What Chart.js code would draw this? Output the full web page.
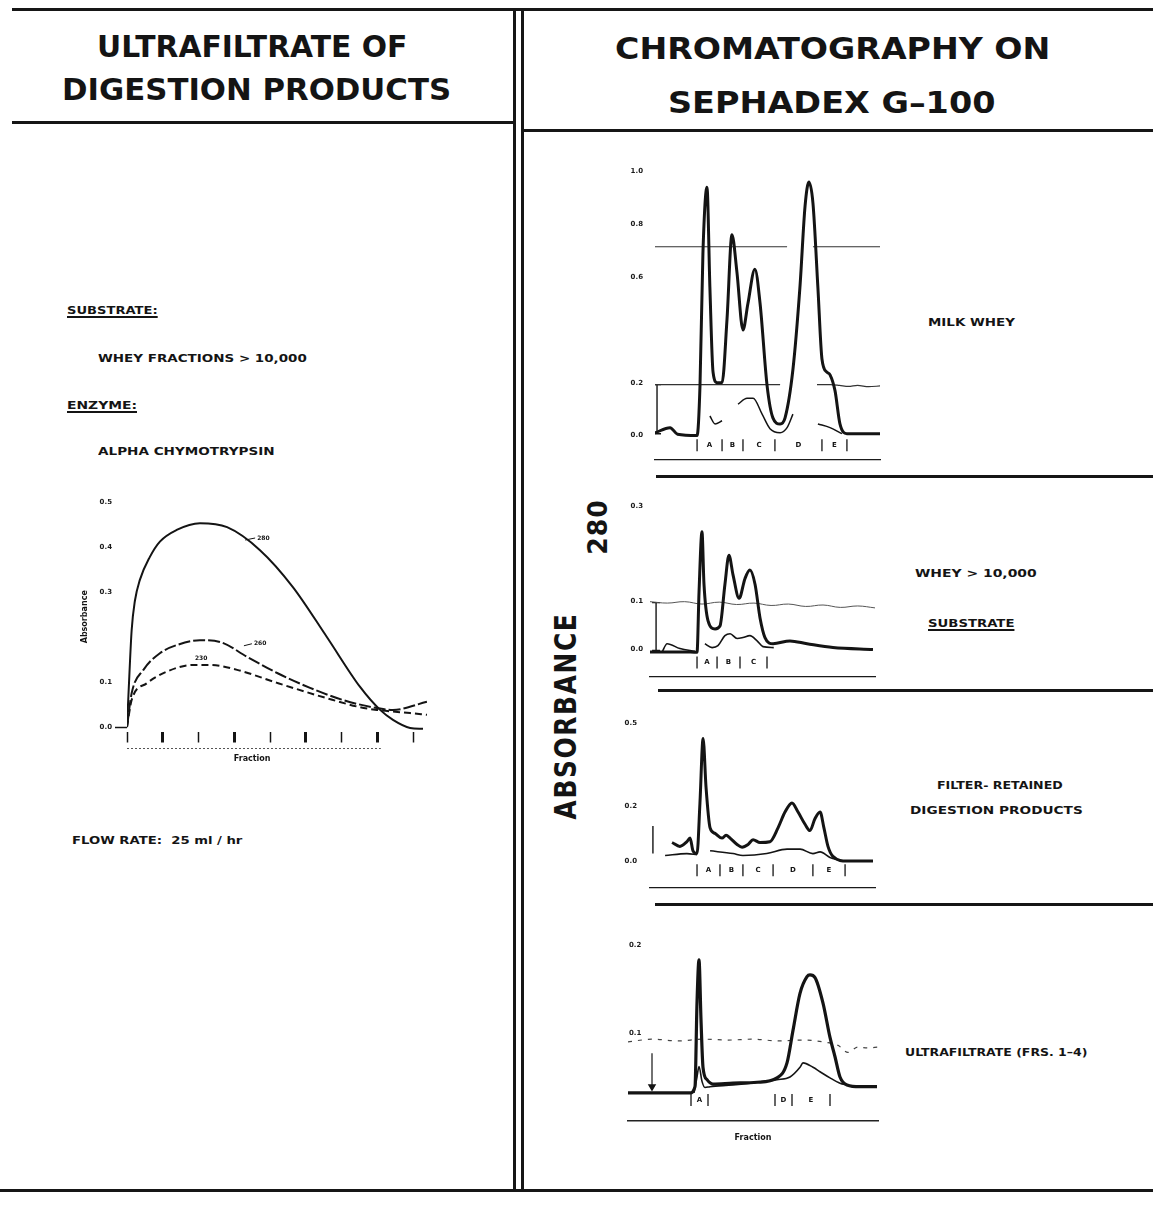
<!DOCTYPE html>
<html>
<head>
<meta charset="utf-8">
<title>Ultrafiltrate of digestion products / Chromatography on Sephadex G-100</title>
<script src="https://cdn.jsdelivr.net/npm/chart.js@4.4.1/dist/chart.umd.min.js"></script>
<style>
  html, body { margin: 0; padding: 0; background: #fff; }
  #page { position: relative; width: 1153px; height: 1205px; overflow: hidden; background: #fff; color: #141414; font-family: "DejaVu Sans", sans-serif; }
  .rule { position: absolute; background: #161616; }
  .txt { position: absolute; white-space: nowrap; font-weight: bold; line-height: 1; transform-origin: 0 50%; }
  .ul { text-decoration: underline; text-decoration-thickness: 2px; text-underline-offset: 2px; }
  canvas { position: absolute; }
</style>
</head>
<body>
<div id="page">
  <!-- frame -->
  <div class="rule" style="left:12px;top:8px;width:1141px;height:2.5px"></div>
  <div class="rule" style="left:12px;top:121px;width:502px;height:2.5px"></div>
  <div class="rule" style="left:522px;top:129px;width:631px;height:2.5px"></div>
  <div class="rule" style="left:513px;top:8px;width:2.5px;height:1184px"></div>
  <div class="rule" style="left:521px;top:8px;width:2.5px;height:1184px"></div>
  <div class="rule" style="left:0;top:1189px;width:1153px;height:2.5px"></div>
  <div class="rule" style="left:656px;top:475px;width:497px;height:3px"></div>
  <div class="rule" style="left:658px;top:689px;width:495px;height:3px"></div>
  <div class="rule" style="left:655px;top:903px;width:498px;height:3px"></div>

  <!-- headings -->
  <div class="txt" data-x="97" data-y="46" data-w="310" style="font-size:31px">ULTRAFILTRATE OF</div>
  <div class="txt" data-x="62" data-y="89" data-w="389" style="font-size:31px">DIGESTION PRODUCTS</div>
  <div class="txt" data-x="615" data-y="48" data-w="435" style="font-size:31px">CHROMATOGRAPHY ON</div>
  <div class="txt" data-x="668" data-y="102" data-w="327" style="font-size:31px">SEPHADEX G–100</div>

  <!-- left panel notes -->
  <div class="txt ul" data-x="67" data-y="310" data-w="91" style="font-size:10.5px">SUBSTRATE:</div>
  <div class="txt" data-x="98" data-y="358" data-w="209" style="font-size:10.5px">WHEY FRACTIONS &gt; 10,000</div>
  <div class="txt ul" data-x="67" data-y="405" data-w="70" style="font-size:10.5px">ENZYME:</div>
  <div class="txt" data-x="98" data-y="451" data-w="177" style="font-size:10.5px">ALPHA CHYMOTRYPSIN</div>
  <div class="txt" data-x="72" data-y="840" data-w="171" style="font-size:10.5px">FLOW RATE:&nbsp;&nbsp;25 ml / hr</div>

  <!-- right panel notes -->
  <div class="txt" data-x="928" data-y="322" data-w="87" style="font-size:10.5px">MILK WHEY</div>
  <div class="txt" data-x="915" data-y="573" data-w="122" style="font-size:10.5px">WHEY &gt; 10,000</div>
  <div class="txt ul" data-x="928" data-y="623" data-w="87" style="font-size:10.5px">SUBSTRATE</div>
  <div class="txt" data-x="937" data-y="785" data-w="126" style="font-size:10.5px">FILTER- RETAINED</div>
  <div class="txt" data-x="910" data-y="810" data-w="173" style="font-size:10.5px">DIGESTION PRODUCTS</div>
  <div class="txt" data-x="905" data-y="1052" data-w="182" style="font-size:10.5px">ULTRAFILTRATE (FRS. 1–4)</div>
  <div class="txt" data-x="566" data-y="716" data-w="207" data-rot="1" style="font-size:30px;letter-spacing:2px">ABSORBANCE</div>
  <div class="txt" data-x="597" data-y="527" data-w="55" data-rot="1" style="font-size:26px;letter-spacing:1px">280</div>

  <canvas id="leftChart" width="420" height="300" style="left:40px;top:480px;width:420px;height:300px"></canvas>
  <canvas id="milkChart" width="300" height="330" style="left:600px;top:150px;width:300px;height:330px"></canvas>
  <canvas id="subChart" width="300" height="200" style="left:600px;top:490px;width:300px;height:200px"></canvas>
  <canvas id="retChart" width="300" height="205" style="left:600px;top:700px;width:300px;height:205px"></canvas>
  <canvas id="ufChart" width="300" height="235" style="left:600px;top:915px;width:300px;height:235px"></canvas>
</div>

<script>
// ---------- left: ultrafiltrate, absorbance per fraction ----------
const fracTicks = [0, 1, 2, 3, 4, 5, 6, 7, 8];
const absTicksLeft = [0, 0.1, 0.3, 0.4, 0.5];
const curveNames = ['280', '260', '230'];

const fracA = [0, 0.04, 0.13, 0.22, 0.36, 0.64, 0.92, 1.39, 2.04, 2.80, 3.72, 4.64, 5.59, 6.52, 7.08, 7.44, 7.92, 8.28];
const absA  = [0, 0.07, 0.215, 0.28, 0.327, 0.378, 0.412, 0.438, 0.453, 0.444, 0.393, 0.311, 0.200, 0.089, 0.038, 0.016, -0.002, -0.004];
const fracB = [0, 0.13, 0.46, 0.92, 1.39, 2.04, 2.60, 3.36, 4.20, 5.12, 6.04, 6.99, 7.44, 8.39];
const absB  = [0, 0.075, 0.127, 0.164, 0.182, 0.193, 0.189, 0.156, 0.120, 0.087, 0.060, 0.042, 0.038, 0.056];
const fracC = [0, 0.13, 0.55, 1.11, 1.85, 2.32, 3.08, 4.20, 5.59, 6.52, 6.99, 7.92, 8.39];
const absC  = [0, 0.06, 0.097, 0.123, 0.138, 0.138, 0.127, 0.098, 0.064, 0.044, 0.038, 0.031, 0.027];

// ---------- right 1: milk whey ----------
const milkTicks = [0, 0.2, 0.6, 0.8, 1.0];
const milkFrac = [0, 6.7, 10, 18.7, 20, 21.3, 23.1, 24.4, 25.8, 27.6, 29.8, 32, 34.2, 36.4, 39.1, 41.3, 44.4, 46.7, 49.8, 52.4, 55.6, 57.8, 61.3, 64.4, 66.7, 68.4, 70.2, 72.4, 74.2, 76.4, 77.8, 80, 82.2, 85.3, 100];
const milkAbs  = [0.01, 0.03, 0.005, 0.0, 0.19, 0.69, 0.94, 0.56, 0.24, 0.20, 0.20, 0.44, 0.76, 0.62, 0.40, 0.50, 0.63, 0.50, 0.19, 0.067, 0.044, 0.067, 0.25, 0.56, 0.87, 0.96, 0.88, 0.56, 0.29, 0.24, 0.23, 0.17, 0.044, 0.007, 0.007];
const milkThinFrac = [24.4, 26.7, 29.8, 29.9, 36.9, 40.9, 43.6, 47.6, 51.1, 55.6, 58.7, 61.3, 61.4, 72.4, 77.8, 83.1];
const milkThinAbs  = [0.074, 0.044, 0.056, null, 0.119, 0.141, 0.141, 0.081, 0.026, 0.011, 0.030, 0.081, null, 0.044, 0.030, 0.007];
const milkUpperFrac = [0, 58.7, 58.8, 70.2, 100];
const milkUpperAbs  = [0.715, 0.715, null, 0.715, 0.715];
const milkLowerFrac = [0, 55.6, 55.7, 72, 78, 82, 86, 90, 95, 100];
const milkLowerAbs  = [0.193, 0.193, null, 0.193, 0.193, 0.19, 0.186, 0.19, 0.185, 0.188];
const milkBarFrac = [0.9, 0.9];
const milkBarAbs  = [0.193, 0.007];
const milkZoneEdges = [18.7, 29.8, 39.1, 53.3, 74.2, 85.3];
const milkZoneNames = ['A', 'B', 'C', 'D', 'E'];

// ---------- right 2: whey > 10,000 (substrate) ----------
const subTicks = [0, 0.1, 0.3];
const subFrac = [0, 15, 20.9, 21.8, 23.1, 24.0, 25.8, 28.9, 31.1, 33.3, 35.1, 36.9, 39.6, 42.2, 44.4, 46.7, 48.9, 51.1, 54.7, 62.2, 69.8, 81.3, 99.1];
const subAbs  = [-0.005, -0.005, -0.006, 0.121, 0.246, 0.136, 0.060, 0.043, 0.049, 0.136, 0.197, 0.156, 0.107, 0.148, 0.166, 0.136, 0.066, 0.025, 0.012, 0.018, 0.012, 0.004, 0.0];
const subThinFrac = [5.3, 7.6, 13.3, 20, 20.1, 24.4, 27.6, 30.2, 33.3, 35.6, 38.7, 41.3, 44.4, 47.6, 50.2, 55];
const subThinAbs  = [-0.006, 0.012, 0.002, -0.004, null, 0.012, 0.004, 0.008, 0.029, 0.033, 0.023, 0.025, 0.029, 0.018, 0.006, 0.004];
const subWaveFrac = [0, 7.7, 15.4, 23.1, 30.8, 38.5, 46.2, 53.8, 61.5, 69.2, 76.9, 84.6, 92.3, 100];
const subWaveAbs  = [0.100, 0.097, 0.100, 0.095, 0.099, 0.094, 0.097, 0.092, 0.095, 0.090, 0.093, 0.088, 0.091, 0.087];
const subBarFrac = [2.7, 2.7];
const subBarAbs  = [0.098, -0.002];
const subZoneEdges = [20.9, 29.8, 40, 52];
const subZoneNames = ['A', 'B', 'C'];

// ---------- right 3: filter-retained digestion products ----------
const retTicks = [0, 0.2, 0.5];
const retFrac = [9.8, 13.3, 16.4, 17.8, 19.1, 20.9, 22.2, 23.6, 24.9, 26.7, 28.9, 32.0, 33.8, 35.6, 38.7, 40.9, 43.6, 45.8, 48.9, 53.3, 56.9, 60.0, 63.1, 65.8, 68.9, 71.1, 73.3, 75.6, 77.3, 79.1, 81.3, 87.6, 99.1];
const retAbs  = [0.067, 0.053, 0.070, 0.083, 0.037, 0.027, 0.21, 0.443, 0.267, 0.12, 0.10, 0.083, 0.093, 0.083, 0.06, 0.05, 0.06, 0.077, 0.067, 0.07, 0.12, 0.177, 0.21, 0.177, 0.133, 0.11, 0.153, 0.177, 0.12, 0.053, 0.017, 0, 0];
const retThinFrac = [6.7, 16.4, 20.9, 21, 26.7, 36.9, 41.3, 51.9, 60.9, 66.7, 72.4, 75.6, 80, 84.4];
const retThinAbs  = [0.02, 0.027, 0.023, null, 0.037, 0.027, 0.02, 0.027, 0.043, 0.043, 0.027, 0.033, 0.013, 0.003];
const retBarFrac = [1.3, 1.3];
const retBarAbs  = [0.127, 0.027];
const retZoneEdges = [20.9, 31.1, 41.3, 54.7, 72.4, 86.7];
const retZoneNames = ['A', 'B', 'C', 'D', 'E'];

// ---------- right 4: ultrafiltrate (frs. 1-4) ----------
const ufTicks = [0.1, 0.2];
const ufFrac = [0, 8.8, 15.6, 22.8, 24.8, 26.8, 27.6, 28.4, 29.2, 30.0, 31.6, 34.0, 42.0, 51.6, 59.6, 63.6, 66.0, 68.8, 71.6, 72.8, 74.8, 78.0, 80.8, 82.8, 84.8, 87.6, 92.8, 99.6];
const ufAbs  = [0.032, 0.032, 0.032, 0.032, 0.032, 0.039, 0.134, 0.183, 0.115, 0.061, 0.047, 0.042, 0.043, 0.044, 0.049, 0.066, 0.103, 0.145, 0.164, 0.166, 0.163, 0.134, 0.095, 0.073, 0.05, 0.041, 0.039, 0.039];
const ufThinFrac = [26.4, 27.6, 28.4, 29.6, 30.8, 32.8, 42.0, 59.6, 64.8, 68.8, 70.0, 74.0, 76.8, 80.8, 84.8, 87.6];
const ufThinAbs  = [0.032, 0.05, 0.062, 0.045, 0.038, 0.039, 0.041, 0.047, 0.05, 0.061, 0.066, 0.061, 0.056, 0.049, 0.043, 0.041];
const ufDotFrac = [0, 10, 20, 30, 40, 50, 60, 70, 80, 84, 88, 92, 96, 100];
const ufDotAbs  = [0.090, 0.093, 0.091, 0.093, 0.092, 0.093, 0.091, 0.092, 0.089, 0.086, 0.078, 0.084, 0.083, 0.084];
const ufArrowFrac = [9.6, 9.6];
const ufArrowAbs  = [0.077, 0.039];
const ufZoneEdges = [25.2, 32, 58.8, 65.6, 80.8];
const ufZoneNames = ['A', null, 'D', 'E'];

const ink = '#141414';
Chart.defaults.font.family = '"DejaVu Sans", sans-serif';
Chart.defaults.color = ink;

// fit every html label to the width it has in the scan
document.querySelectorAll('.txt').forEach(el => {
    const w = el.offsetWidth, h = el.offsetHeight;
    const s = (+el.dataset.w) / w;
    if (el.dataset.rot) {
        el.style.left = (+el.dataset.x - w / 2) + 'px';
        el.style.top = (+el.dataset.y - h / 2) + 'px';
        el.style.transformOrigin = '50% 50%';
        el.style.transform = `rotate(-90deg) scaleX(${s})`;
    } else {
        el.style.left = el.dataset.x + 'px';
        el.style.top = (+el.dataset.y - h / 2) + 'px';
        el.style.transform = `scaleX(${s})`;
    }
});

const pts = (xs, ys) => xs.map((x, i) => ({ x, y: ys[i] }));

const trace = (xs, ys, width, extra) => Object.assign({
    data: pts(xs, ys), borderColor: ink, borderWidth: width, pointRadius: 0,
    fill: false, cubicInterpolationMode: 'monotone', spanGaps: false
}, extra || {});

// short vertical scale bars with caps
const bracket = (xs, ys, extra) => Object.assign({
    data: pts(xs, ys), borderColor: ink, borderWidth: 1.4, tension: 0,
    pointStyle: 'line', pointRadius: 4, pointBorderColor: ink, pointBorderWidth: 1.4
}, extra || {});

// zone letters, rules and small notes, all placed through the scales
const markup = {
    id: 'markup',
    afterDatasetsDraw(chart, args, o) {
        const { ctx, chartArea: area } = chart;
        const x = chart.scales.x, y = chart.scales.y;
        ctx.save();
        ctx.fillStyle = ink;
        ctx.strokeStyle = ink;
        if (o.zones) {
            const yp = y.getPixelForValue(o.zones.at);
            ctx.lineWidth = 1.3;
            o.zones.edges.forEach(e => {
                const xp = x.getPixelForValue(e);
                ctx.beginPath(); ctx.moveTo(xp, yp - 6); ctx.lineTo(xp, yp + 6); ctx.stroke();
            });
            ctx.font = 'bold 7px "DejaVu Sans"';
            ctx.textAlign = 'center';
            ctx.textBaseline = 'middle';
            o.zones.names.forEach((n, i) => {
                if (n) ctx.fillText(n, x.getPixelForValue((o.zones.edges[i] + o.zones.edges[i + 1]) / 2), yp);
            });
        }
        (o.rules || []).forEach(r => {
            const yp = area.bottom + r.dy;
            ctx.lineWidth = 1;
            ctx.strokeStyle = '#555';
            ctx.setLineDash(r.dash || []);
            ctx.beginPath(); ctx.moveTo(x.getPixelForValue(r.from), yp); ctx.lineTo(x.getPixelForValue(r.to), yp); ctx.stroke();
            ctx.setLineDash([]);
            ctx.strokeStyle = ink;
        });
        (o.notes || []).forEach(n => {
            const xp = x.getPixelForValue(n.x);
            const yp = n.dy != null ? area.bottom + n.dy : y.getPixelForValue(n.y);
            ctx.font = n.font || 'bold 6px "DejaVu Sans"';
            ctx.textAlign = n.align || 'left';
            ctx.textBaseline = 'middle';
            ctx.fillText(n.text, xp, yp);
            if (n.lead) {
                ctx.lineWidth = 1;
                ctx.beginPath(); ctx.moveTo(xp - n.lead, yp + 2); ctx.lineTo(xp - 2, yp); ctx.stroke();
            }
        });
        ctx.restore();
    }
};

// common frame: fixed axis sizes so the plot areas land where the scan has them
const frame = o => ({
    animation: false,
    responsive: false,
    layout: { padding: { top: o.top, right: o.right, left: 0, bottom: 0 } },
    plugins: { legend: { display: false }, tooltip: { enabled: false }, markup: o.markup || {} },
    scales: {
        x: Object.assign({
            type: 'linear', min: o.xMin, max: o.xMax,
            afterFit: s => { s.height = o.xH; },
            grid: { display: false },
            ticks: { display: false },
            border: { display: true, color: '#1a1a1a', width: 1.3 }
        }, o.x || {}),
        y: Object.assign({
            type: 'linear', min: o.yMin, max: o.yMax,
            afterFit: s => { s.width = o.yW; },
            afterBuildTicks: s => { s.ticks = o.yTicks.map(v => ({ value: v })); },
            grid: { display: false, drawTicks: false },
            border: { display: false },
            ticks: { padding: o.yPad, autoSkip: false, mirror: !!o.mirror, color: '#1a1a1a', font: { size: 7, weight: 'bold' }, callback: v => v.toFixed(1) }
        }, o.y || {})
    }
});

new Chart(document.getElementById('leftChart'), {
    type: 'line',
    plugins: [markup],
    data: { datasets: [
        trace(fracA, absA, 2),
        trace(fracB, absB, 2, { borderDash: [12, 3] }),
        trace(fracC, absC, 2, { borderDash: [7, 4] })
    ] },
    options: frame({
        top: 22, right: 32.7, xH: 48.5, yW: 87,
        xMin: 0, xMax: 8.4, yMin: -0.01, yMax: 0.5, yTicks: absTicksLeft, yPad: 3,
        x: {
            afterBuildTicks: s => { s.ticks = fracTicks.map(v => ({ value: v })); },
            grid: { display: true, drawOnChartArea: false, drawTicks: true, tickLength: 11, tickColor: ink, tickWidth: c => (c.index % 2 ? 3 : 1.5) },
            border: { display: false }
        },
        y: {
            grid: { display: true, drawOnChartArea: false, drawTicks: true, tickLength: 12, tickWidth: 1.5, tickColor: c => (c.index === 0 ? ink : 'rgba(0,0,0,0)') },
            title: { display: true, text: 'Absorbance', color: ink, font: { size: 8, weight: 'bold' }, padding: { top: 40, bottom: 0 } }
        },
        markup: {
            rules: [{ from: 0, to: 7.1, dy: 17, dash: [2, 2] }],
            notes: [
                { x: 3.64, y: 0.42, text: curveNames[0], lead: 12 },
                { x: 3.55, y: 0.185, text: curveNames[1], lead: 10 },
                { x: 1.9, y: 0.153, text: curveNames[2] },
                { x: 3.5, dy: 27, text: 'Fraction', font: 'bold 8px "DejaVu Sans"', align: 'center' }
            ]
        }
    })
});

new Chart(document.getElementById('milkChart'), {
    type: 'line',
    plugins: [markup],
    data: { datasets: [
        trace(milkFrac, milkAbs, 3),
        trace(milkThinFrac, milkThinAbs, 1.5),
        trace(milkUpperFrac, milkUpperAbs, 1.2, { borderColor: '#333' }),
        trace(milkLowerFrac, milkLowerAbs, 1.2, { borderColor: '#333' }),
        bracket(milkBarFrac, milkBarAbs)
    ] },
    options: frame({
        top: 9.6, right: 20, xH: 20, yW: 55,
        xMin: 0, xMax: 100, yMin: -0.0926, yMax: 1.02, yTicks: milkTicks, yPad: 12,
        markup: { zones: { at: -0.037, edges: milkZoneEdges, names: milkZoneNames } }
    })
});

new Chart(document.getElementById('subChart'), {
    type: 'line',
    plugins: [markup],
    data: { datasets: [
        trace(subFrac, subAbs, 3),
        trace(subThinFrac, subThinAbs, 1.6),
        trace(subWaveFrac, subWaveAbs, 1, { borderColor: '#555', tension: 0.4, cubicInterpolationMode: 'default' }),
        bracket(subBarFrac, subBarAbs)
    ] },
    options: frame({
        top: 8, right: 25, xH: 13, yW: 50,
        xMin: 0, xMax: 100, yMin: -0.0575, yMax: 0.31, yTicks: subTicks, yPad: 7,
        markup: { zones: { at: -0.027, edges: subZoneEdges, names: subZoneNames } }
    })
});

new Chart(document.getElementById('retChart'), {
    type: 'line',
    plugins: [markup],
    data: { datasets: [
        trace(retFrac, retAbs, 3),
        trace(retThinFrac, retThinAbs, 1.6),
        bracket(retBarFrac, retBarAbs, { pointRadius: 0 })
    ] },
    options: frame({
        top: 7, right: 25, xH: 13, yW: 50,
        xMin: 0, xMax: 100, yMin: -0.0967, yMax: 0.52, yTicks: retTicks, yPad: 13,
        markup: { zones: { at: -0.033, edges: retZoneEdges, names: retZoneNames } }
    })
});

new Chart(document.getElementById('ufChart'), {
    type: 'line',
    plugins: [markup],
    data: { datasets: [
        trace(ufFrac, ufAbs, 3.2),
        trace(ufThinFrac, ufThinAbs, 1.6),
        trace(ufDotFrac, ufDotAbs, 1.2, { borderColor: '#444', borderDash: [4, 6] }),
        bracket(ufArrowFrac, ufArrowAbs, {
            pointStyle: ['line', 'triangle'], rotation: [0, 180], pointRadius: [0, 3.5],
            pointBackgroundColor: ink, borderWidth: 1.2
        })
    ] },
    options: frame({
        top: 12.4, right: 22, xH: 29, yW: 28,
        xMin: 0, xMax: 100, yMin: 0, yMax: 0.22, yTicks: ufTicks, yPad: 1, mirror: true,
        x: {
            border: { display: true, color: '#222', width: 1.5, dash: [3, 2] },
            title: { display: true, text: 'Fraction', color: ink, font: { size: 8, weight: 'bold' }, padding: { top: 0, bottom: 7 } }
        },
        markup: { zones: { at: 0.024, edges: ufZoneEdges, names: ufZoneNames } }
    })
});
</script>
</body>
</html>
